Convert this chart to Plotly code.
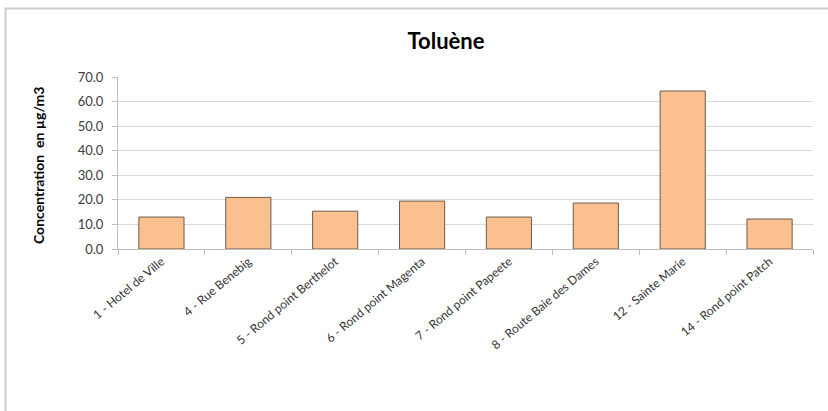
import plotly.graph_objects as go

# Sites and measured toluene concentrations (µg/m3)
sites = [
    "1 - Hotel de Ville",
    "4 - Rue Benebig",
    "5 - Rond point Berthelot",
    "6 - Rond point Magenta",
    "7 - Rond point Papeete",
    "8 - Route Baie des Dames",
    "12 - Sainte Marie",
    "14 - Rond point Patch",
]
toluene = [13.0, 21.0, 15.4, 19.5, 13.0, 18.7, 64.3, 12.2]

y_ticks = [0, 10, 20, 30, 40, 50, 60, 70]

W, H = 828, 411
L, R, T, B = 118, 15, 77, 162
plot_w = W - L - R
plot_h = H - T - B

font_family = "Lato, 'Open Sans', sans-serif"
axis_grey = "#bfbfbf"
frame_grey = "#cccccc"


def px_x(px):
    """Horizontal pixel position -> paper fraction."""
    return (px - L) / plot_w


def px_y(py):
    """Vertical pixel position (from top) -> paper fraction."""
    return (H - B - py) / plot_h


fig = go.Figure(
    go.Bar(
        x=sites,
        y=toluene,
        marker=dict(color="#FAC090", line=dict(color="#6e5a4a", width=1)),
        width=0.52,
    )
)

fig.update_layout(
    width=W,
    height=H,
    margin=dict(l=L, r=R, t=T, b=B),
    paper_bgcolor="white",
    plot_bgcolor="white",
    showlegend=False,
    font=dict(family=font_family, size=12, color="#404040"),
    title=dict(
        text="<b>Toluène</b>",
        x=446 / W,
        xanchor="center",
        y=1 - 41 / H,
        yanchor="middle",
        font=dict(family=font_family, size=22, color="#000000"),
    ),
    annotations=[
        dict(
            text="<b>Concentration  en µg/m3</b>",
            textangle=-90,
            xref="paper",
            yref="paper",
            x=px_x(38),
            y=px_y(166),
            xanchor="center",
            yanchor="middle",
            showarrow=False,
            font=dict(family=font_family, size=14, color="#000000"),
        )
    ],
    shapes=[
        # chart-area frame: top edge
        dict(
            type="line",
            xref="paper",
            yref="paper",
            x0=px_x(5),
            x1=px_x(W + 20),
            y0=px_y(8.5),
            y1=px_y(8.5),
            line=dict(color=frame_grey, width=2),
            layer="below",
        ),
        # chart-area frame: left edge
        dict(
            type="line",
            xref="paper",
            yref="paper",
            x0=px_x(5.5),
            x1=px_x(5.5),
            y0=px_y(8),
            y1=px_y(H + 20),
            line=dict(color=frame_grey, width=2),
            layer="below",
        ),
    ],
)

fig.update_xaxes(
    type="category",
    tickangle=-40,
    showgrid=False,
    showline=True,
    linecolor=axis_grey,
    linewidth=1,
    ticks="outside",
    tickson="boundaries",
    ticklen=5,
    tickcolor=axis_grey,
    tickfont=dict(family=font_family, size=12, color="#333333"),
    range=[-0.5, len(sites) - 0.5],
)

fig.update_yaxes(
    range=[0, 70],
    tickvals=y_ticks,
    ticktext=[f"{v:.1f}" for v in y_ticks],
    showgrid=True,
    gridcolor="#d9d9d9",
    gridwidth=1,
    showline=True,
    linecolor=axis_grey,
    linewidth=1,
    ticks="outside",
    ticklen=5,
    tickcolor=axis_grey,
    ticklabelstandoff=6,
    zeroline=False,
    tickfont=dict(family=font_family, size=13, color="#404040"),
)

fig.write_html("out.html")
